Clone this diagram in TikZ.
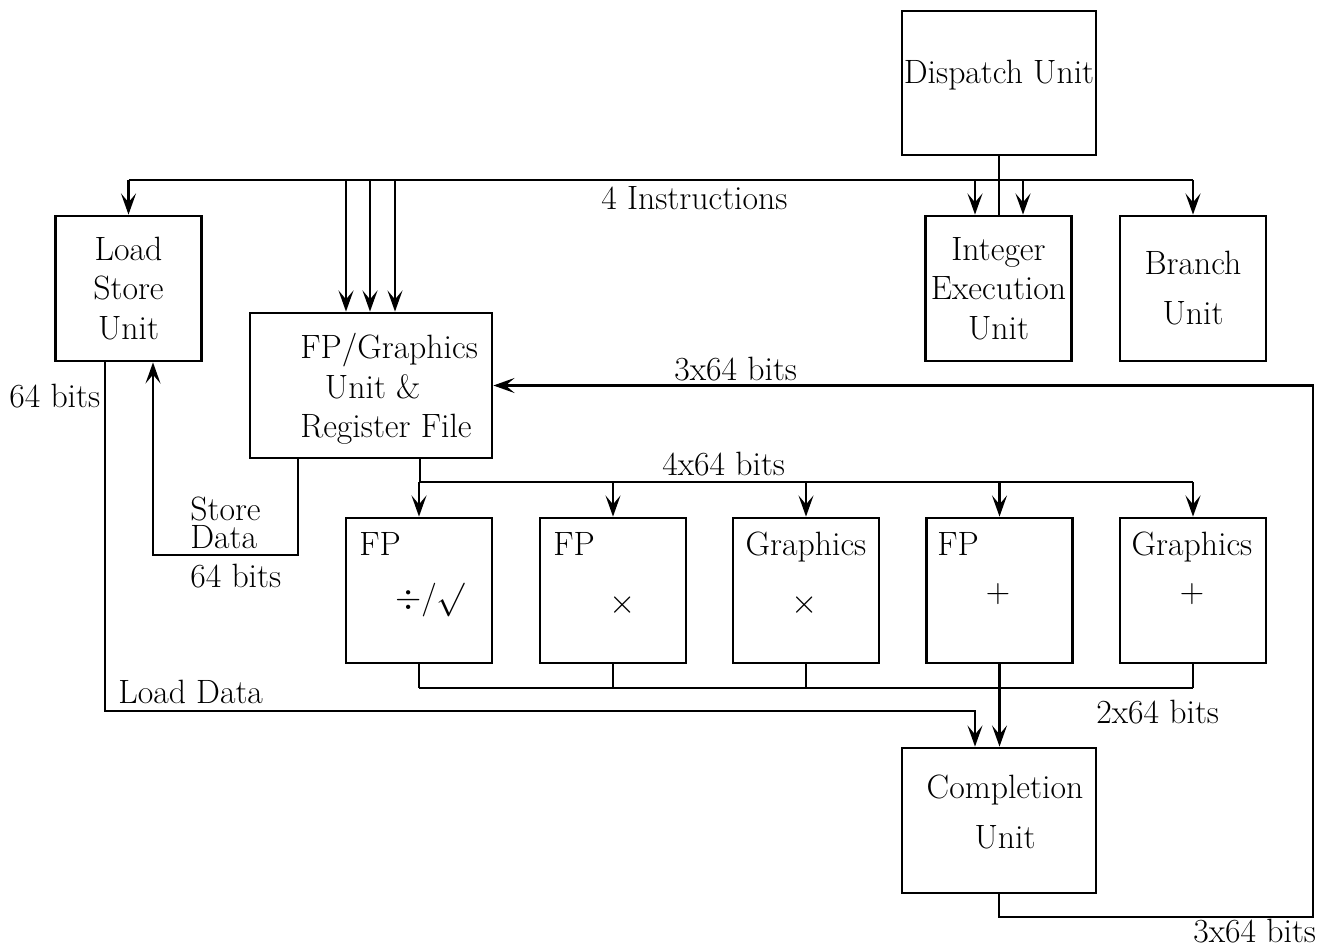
\RequirePackage{fix-cm}
\documentclass[tikz,border=0pt]{standalone}
\usepackage{amsmath,amssymb}
\usepackage{fontspec}
\usetikzlibrary{arrows.meta}
\tikzset{
  blk/.style={draw,line width=1.6pt,minimum width=2.92cm,minimum height=2.9cm,inner sep=0pt,align=center},
  ln/.style={line width=1.6pt},
  tln/.style={line width=1.1pt},
  tip/.style={-{Stealth[length=12pt,width=8.5pt,inset=5pt]}},
  arl/.style={ln,tip},
  tarl/.style={tln,tip},
  lab/.style={inner sep=0pt},
  every node/.style={font=\fontsize{19.2}{22.5}\selectfont}
}

\begin{document}
\begin{tikzpicture}[x=0.02cm,y=-0.02cm]
  \useasboundingbox (0,0) rectangle (1332,949);
  % units
  \node[blk,minimum width=3.88cm,minimum height=2.88cm] (disp) at (999,83) {};
  \node[lab] (dispt) at (999,75) {Dispatch Unit};
  \node[blk] (lsu) at (128.5,288.5) {Load\\Store\\Unit};
  \node[blk] (intu) at (998.5,288.5) {Integer\\Execution\\Unit};
  \node[blk] (bru) at (1193,288.5) {Branch\\[6pt]Unit};
  \node[blk,minimum width=4.84cm] (fpg) at (371,385.5) {};
  \node[lab,anchor=west,align=left] (fpgt) at (300,389) {FP/Graphics\\\hspace{14pt}Unit \&\\Register File};
  \node[blk,minimum width=3.88cm] (comp) at (999,820.5) {};
  \node[lab,align=center] (compt) at (1005,812) {Completion\\[6pt]Unit};
  \foreach \i/\x in {1/419,2/613,3/806,4/999.5,5/1193}
    \node[blk] (fu\i) at (\x,590.5) {};
  \node[lab,anchor=base west] (fu1a) at (359,555) {FP};
  \node[lab,anchor=base west] (fu2a) at (553,555) {FP};
  \node[lab,anchor=base] (fu3a) at (806,555) {Graphics};
  \node[lab,anchor=base west] (fu4a) at (937,555) {FP};
  \node[lab,anchor=base] (fu5a) at (1192,555) {Graphics};
  \node[lab] (fu1b) at (430,600) {$\div/\surd$};
  \node[lab] (fu2b) at (623,605) {$\times$};
  \node[lab] (fu3b) at (805,605) {$\times$};
  \node[lab] (fu4b) at (998,594) {$+$};
  \node[lab] (fu5b) at (1192,594) {$+$};
  % instruction bus
  \coordinate (b1) at (128,180);
  \draw[ln] (disp.south) -- (disp.south |- intu.north);
  \draw[ln] (lsu.north |- b1) -- (bru.north |- b1);
  \draw[arl] (lsu.north |- b1) -- (lsu.north);
  \draw[arl] (bru.north |- b1) -- (bru.north);
  \foreach \x in {346,370} \draw[arl] (\x,180) -- (\x,0 |- fpg.north);
  \draw[tarl] (395,180) -- (395,0 |- fpg.north);
  \foreach \x in {975,1023} \draw[arl] (\x,180) -- (\x,0 |- intu.north);
  \node[lab,anchor=base west] (ins) at (601,210) {4 Instructions};
  % operands to the units
  \coordinate (b2) at (420,482);
  \draw[ln] (420,0 |- fpg.south) -- (b2) -- (fu5.north |- b2);
  \foreach \i in {1,4,5} \draw[arl] (fu\i.north |- b2) -- (fu\i.north);
  \foreach \i in {2,3} \draw[tarl] (fu\i.north |- b2) -- (fu\i.north);
  \node[lab,anchor=base west] (w4) at (662,475) {4x64 bits};
  % results to completion
  \coordinate (b3) at (419,688);
  \foreach \i in {1,...,5} \draw[tln] (fu\i.south) -- (fu\i.south |- b3);
  \draw[tln] (fu1.south |- b3) -- (fu5.south |- b3);
  \draw[arl] (fu4.south) -- (fu4.south |- comp.north);
  \node[lab,anchor=base west] (w2) at (1096,723) {2x64 bits};
  % write back
  \draw[arl] (comp.south) |- (1313,917) |- (fpg.east);
  \node[lab,anchor=base west] (w3a) at (674,380) {3x64 bits};
  \node[lab,anchor=base west] (w3b) at (1193,942) {3x64 bits};
  % store data
  \draw[tarl] (298,0 |- fpg.south) |- (153,555) -- (153,0 |- lsu.south);
  \node[lab,anchor=base west,align=left,font=\fontsize{19.2}{15.5}\selectfont] (sd) at (190,548) {Store\\Data};
  \node[lab,anchor=base west] (sd64) at (190,587) {64 bits};
  % load data
  \draw[tarl] (105,0 |- lsu.south) |- (975,711) -- (975,0 |- comp.north);
  \node[lab,anchor=base west] (ld) at (118,703) {Load Data};
  \node[lab,anchor=base west] (ld64) at (9,408) {64 bits};
\end{tikzpicture}
\end{document}
